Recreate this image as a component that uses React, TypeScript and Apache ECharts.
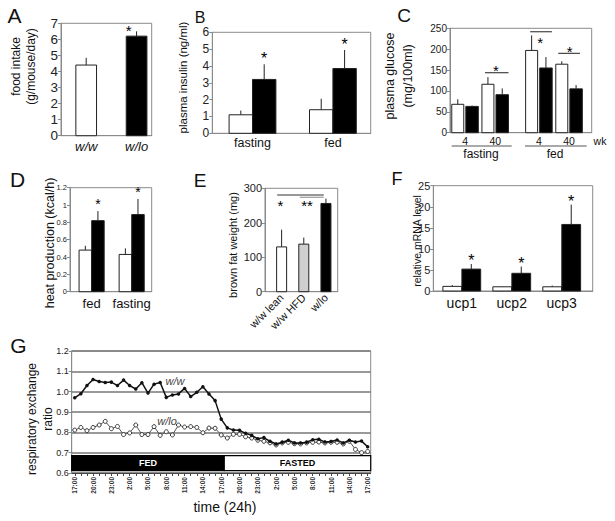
import React, { useEffect, useRef } from 'react';
import * as echarts from 'echarts';

const FONT = '"Liberation Sans", Arial, Helvetica, sans-serif';
const AXIS = '#8a8a8a';
const INK = '#111';

// ---------- Panel A: food intake ----------
const A_categories = ['w/w', 'w/lo'];
const A_values = [4.4, 6.2];
const A_errors = [0.45, 0.3];
const A_sig = [false, true];
const A_ticks = [0, 7, 1];

// ---------- Panel B: plasma insulin ----------
const B_categories = ['fasting', 'fed'];
const B_ww = [1.1, 1.4];
const B_wwErr = [0.25, 0.65];
const B_wlo = [3.2, 3.85];
const B_wloErr = [0.9, 1.1];
const B_wloSig = [true, true];
const B_ticks = [0, 6, 1];

// ---------- Panel C: plasma glucose ----------
const C_weeks = ['4', '40', '4', '40'];
const C_groups = ['fasting', 'fed'];
const C_ww = [68, 116, 197, 164];
const C_wwErr = [12, 17, 36, 7];
const C_wlo = [63, 91, 155, 105];
const C_wloErr = [2, 15, 26, 9];
const C_ticks = [0, 250, 50];
// significance brackets: [x from, x to, y]
const C_sigLines = [[0.66, 1.44, 143.7], [2.16, 2.88, 241.8], [3.09, 3.81, 190]];
const C_sigStars = [[1.02, 158], [2.49, 223.6], [3.47, 202]];

// ---------- Panel D: heat production ----------
const D_categories = ['fed', 'fasting'];
const D_ww = [0.48, 0.43];
const D_wwErr = [0.05, 0.07];
const D_wlo = [0.82, 0.89];
const D_wloErr = [0.11, 0.18];
const D_wloSig = [true, true];
const D_ticks = [0, 1.2, 0.2];

// ---------- Panel E: brown fat weight ----------
const E_categories = ['w/w lean', 'w/w HFD', 'w/lo'];
const E_values = [130, 138, 256];
const E_errors = [50, 19, 14];
const E_ticks = [0, 300, 100];
const E_sigLines = [[-0.2, 1.9, 280.6], [0.82, 1.9, 274]];
const E_sigStars = [[-0.05, 261], [1.15, 261]];
const E_sigText = ['*', '**'];

// ---------- Panel F: relative mRNA ----------
const F_categories = ['ucp1', 'ucp2', 'ucp3'];
const F_ww = [1.1, 1.0, 1.0];
const F_wwErr = [0.3, 0.1, 0.3];
const F_wlo = [5.2, 4.2, 15.8];
const F_wloErr = [1.2, 1.6, 4.7];
const F_wloSig = [true, true, true];
const F_ticks = [0, 25, 5];

// ---------- Panel G: respiratory exchange ratio ----------
const G_times = Array.from({ length: 49 }, (_, i) => `${(17 + i) % 24}:00`);
const G_ww = [
  0.97, 0.99, 1.03, 1.06, 1.05, 1.045, 1.047, 1.03, 1.057, 1.03,
  1.013, 1.044, 0.993, 1.037, 1.045, 0.972, 0.984, 0.989, 1.016, 0.976,
  0.997, 1.024, 0.989, 0.956, 0.865, 0.822, 0.811, 0.81, 0.795, 0.785,
  0.768, 0.774, 0.756, 0.743, 0.751, 0.761, 0.748, 0.748, 0.751, 0.764,
  0.766, 0.752, 0.755, 0.762, 0.748, 0.761, 0.752, 0.757, 0.729,
];
const G_wlo = [
  0.811, 0.824, 0.808, 0.824, 0.836, 0.854, 0.818, 0.829, 0.789, 0.797,
  0.836, 0.789, 0.789, 0.828, 0.785, 0.803, 0.787, 0.836, 0.826, 0.828,
  0.824, 0.798, 0.821, 0.82, 0.787, 0.772, 0.79, 0.79, 0.778, 0.772,
  0.761, 0.756, 0.748, 0.738, 0.748, 0.751, 0.744, 0.743, 0.748, 0.751,
  0.752, 0.748, 0.751, 0.751, 0.743, 0.756, 0.716, 0.7, 0.706,
];
const G_ticks = [0.6, 1.2, 0.1];
const G_phases = ['FED', 'FASTED'];
const G_phaseStart = [0, 25];
const G_phaseEnd = [24, 48];
const G_phaseTop = 0.685;
const G_phaseBottom = 0.612;

// ---------- layout (pixels / axis positions) ----------
const GRIDS = [
  { left: 61, top: 23.3, width: 90.7, height: 112.4 }, // A
  { left: 212.3, top: 32.3, width: 158.4, height: 101 }, // B
  { left: 450, top: 28.3, width: 141.7, height: 104.4 }, // C
  { left: 70, top: 187.7, width: 81.7, height: 104 }, // D
  { left: 265, top: 188.3, width: 72.7, height: 103.4 }, // E
  { left: 433.3, top: 185.7, width: 159.4, height: 105.3 }, // F
  { left: 71.7, top: 351, width: 299, height: 122 }, // G
];
const POS_A = [0, 1];
const POS_B = [0, 1];
const POS_C = [0, 1, 2.45, 3.45];
const POS_D = [0, 1];
const POS_E = [0, 1, 2];
const POS_F = [0, 1, 2];

type Star = { dx: number; dy: number; size: number };

function bars(
  gi: number, xs: number[], vals: number[], errs: number[], sig: boolean[] | null,
  barW: number, offset: number, fill: string | ((i: number) => string), star?: Star,
) {
  return {
    type: 'custom', xAxisIndex: gi, yAxisIndex: gi, silent: true, z: 3,
    encode: { x: 0, y: 1 },
    data: xs.map((x, i) => [x, vals[i], errs[i], sig && sig[i] ? 1 : 0]),
    renderItem: (params: any, api: any) => {
      const i = params.dataIndex;
      const x = api.value(0), y = api.value(1), e = api.value(2), s = api.value(3);
      const base = api.coord([x, 0]);
      const top = api.coord([x, y]);
      const et = api.coord([x, y + e]);
      const cx = base[0] + offset;
      const color = typeof fill === 'function' ? fill(i) : fill;
      const children: any[] = [
        { type: 'line', shape: { x1: cx, y1: top[1], x2: cx, y2: et[1] }, style: { stroke: '#222', lineWidth: 1 } },
        { type: 'rect', shape: { x: cx - barW / 2, y: top[1], width: barW, height: base[1] - top[1] }, style: { fill: color, stroke: '#222', lineWidth: 1 } },
      ];
      if (s && star) {
        children.push({
          type: 'text', x: cx + star.dx, y: et[1] + star.dy + star.size * 0.22,
          style: { text: '*', fontSize: star.size, fontFamily: FONT, fill: '#000', align: 'center', verticalAlign: 'middle' },
        });
      }
      return { type: 'group', children };
    },
  };
}

function sigLines(gi: number, lines: number[][], colors: string[]) {
  return {
    type: 'custom', xAxisIndex: gi, yAxisIndex: gi, silent: true, z: 4,
    encode: { x: 0, y: 1 },
    data: lines.map((l) => [l[0], l[2]]),
    renderItem: (params: any, api: any) => {
      const l = lines[params.dataIndex];
      const a = api.coord([l[0], l[2]]);
      const b = api.coord([l[1], l[2]]);
      return { type: 'line', shape: { x1: a[0], y1: a[1], x2: b[0], y2: b[1] }, style: { stroke: colors[params.dataIndex] || '#333', lineWidth: 1.2 } };
    },
  };
}

function sigStars(gi: number, stars: number[][], texts: string[], size: number) {
  return {
    type: 'custom', xAxisIndex: gi, yAxisIndex: gi, silent: true, z: 4,
    encode: { x: 0, y: 1 },
    data: stars.map((s) => [s[0], s[1]]),
    renderItem: (params: any, api: any) => {
      const p = api.coord([api.value(0), api.value(1)]);
      return {
        type: 'text', x: p[0], y: p[1] + size * 0.22,
        style: { text: texts[params.dataIndex] || '*', fontSize: size, fontFamily: FONT, fill: '#000', align: 'center', verticalAlign: 'middle' },
      };
    },
  };
}

function catX(gi: number, min: number, max: number, pos: number[], labels: string[], fontSize: number, extra: any = {}) {
  return {
    type: 'value', gridIndex: gi, min, max,
    axisLine: { show: true, onZero: false, lineStyle: { color: AXIS } },
    axisTick: { show: false },
    splitLine: { show: false },
    axisLabel: {
      customValues: pos,
      formatter: (v: number) => {
        const i = pos.findIndex((p) => Math.abs(p - v) < 1e-6);
        return i >= 0 ? labels[i] : '';
      },
      fontSize, fontFamily: FONT, color: INK, margin: 4, ...extra,
    },
  };
}

function valY(gi: number, ticks: number[], fontSize: number, formatter?: any, extra: any = {}) {
  return {
    type: 'value', gridIndex: gi, min: ticks[0], max: ticks[1], interval: ticks[2],
    axisLine: { show: true, onZero: false, lineStyle: { color: AXIS } },
    axisTick: { show: true, length: 3, lineStyle: { color: AXIS } },
    splitLine: { show: false },
    axisLabel: { fontSize, fontFamily: FONT, color: '#222', margin: 3, formatter },
    ...extra,
  };
}

function txt(text: string, x: number, y: number, fontSize: number, o: any = {}) {
  return {
    type: 'text', x, y, rotation: o.rot || 0, silent: true, z: 100,
    style: {
      text, fontSize, fontFamily: FONT, fill: o.color || INK,
      align: 'center', verticalAlign: 'middle',
      fontStyle: o.italic ? 'italic' : 'normal',
      fontWeight: o.bold ? 'bold' : 'normal',
      lineHeight: o.lh || fontSize * 1.2,
    },
  };
}

function hline(x1: number, x2: number, y: number, color = '#555') {
  return { type: 'line', silent: true, z: 100, shape: { x1, y1: y, x2, y2: y }, style: { stroke: color, lineWidth: 1 } };
}

function buildOption(): any {
  const R = Math.PI / 2;
  const grid = GRIDS.map((g) => ({
    ...g, show: true, borderColor: AXIS, borderWidth: 1, backgroundColor: 'transparent',
    containLabel: false, outerBoundsMode: 'none',
  }));

  const xAxis = [
    catX(0, -0.5, 1.3, POS_A, A_categories, 13, { fontStyle: 'italic', margin: 4 }),
    catX(1, -0.5, 1.47, POS_B, B_categories, 12.5, { margin: 3 }),
    catX(2, -0.5, 4.2, POS_C, C_weeks, 10.5, { margin: 3 }),
    catX(3, -0.54, 1.5, POS_D, D_categories, 13, { margin: 5 }),
    catX(4, -0.75, 2.53, POS_E, E_categories, 11, { rotate: 45, margin: 4 }),
    catX(5, -0.57, 2.62, POS_F, F_categories, 14, { margin: 5 }),
    {
      type: 'category', gridIndex: 6, data: G_times, boundaryGap: true,
      axisLine: { show: true, onZero: false, lineStyle: { color: '#444' } },
      axisTick: { show: true, interval: 0, alignWithLabel: true, length: 3, lineStyle: { color: '#444' } },
      splitLine: { show: false },
      axisLabel: { interval: 2, rotate: 90, fontSize: 6.5, fontWeight: 'bold', fontFamily: FONT, color: '#333', margin: 4 },
    },
  ];

  const yAxis = [
    valY(0, A_ticks, 13.5),
    valY(1, B_ticks, 12),
    valY(2, C_ticks, 10),
    valY(3, D_ticks, 7.5, (v: number) => String(+v.toFixed(1))),
    valY(4, E_ticks, 11),
    valY(5, F_ticks, 11),
    valY(6, G_ticks, 9, (v: number) => v.toFixed(1), {
      splitLine: { show: true, lineStyle: { color: '#777', width: 1.5 } },
    }),
  ];

  const series: any[] = [
    // A
    bars(0, POS_A, A_values, A_errors, A_sig, 20.7, 0, (i) => (i === 0 ? '#fff' : '#000'), { dx: -8, dy: -4, size: 15 }),
    // B
    bars(1, POS_B, B_ww, B_wwErr, null, 23.4, -11.7, '#fff'),
    bars(1, POS_B, B_wlo, B_wloErr, B_wloSig, 23.4, 11.7, '#000', { dx: 0, dy: -9, size: 16 }),
    // C
    bars(2, POS_C, C_ww, C_wwErr, null, 12, -7.3, '#fff'),
    bars(2, POS_C, C_wlo, C_wloErr, null, 12.5, 7, '#000'),
    sigLines(2, C_sigLines, ['#444', '#444', '#444']),
    sigStars(2, C_sigStars, ['*', '*', '*'], 15),
    // D
    bars(3, POS_D, D_ww, D_wwErr, null, 12.5, -6.3, '#fff'),
    bars(3, POS_D, D_wlo, D_wloErr, D_wloSig, 12.5, 6.3, '#000', { dx: 0, dy: -10, size: 14 }),
    // E
    bars(4, POS_E, E_values, E_errors, null, 10, 0, (i) => ['#fff', '#cfcfcf', '#000'][i]),
    sigLines(4, E_sigLines, ['#333', '#9a9a9a']),
    sigStars(4, E_sigStars, E_sigText, 15),
    // F
    bars(5, POS_F, F_ww, F_wwErr, null, 18.8, -9.5, '#fff'),
    bars(5, POS_F, F_wlo, F_wloErr, F_wloSig, 18.8, 9.5, '#000', { dx: 0, dy: -7, size: 16 }),
    // G
    {
      type: 'custom', xAxisIndex: 6, yAxisIndex: 6, silent: true, z: 4,
      encode: { x: 0, y: 1 },
      data: G_phases.map((_, i) => [G_phaseStart[i], G_phaseTop]),
      renderItem: (params: any, api: any) => {
        const i = params.dataIndex;
        const band = api.size([1, 0])[0];
        const a = api.coord([G_phaseStart[i], G_phaseTop]);
        const b = api.coord([G_phaseEnd[i], G_phaseBottom]);
        const x0 = a[0] - band / 2;
        const x1 = b[0] + band / 2;
        const fed = i === 0;
        return {
          type: 'group',
          children: [
            { type: 'rect', shape: { x: x0, y: a[1], width: x1 - x0, height: b[1] - a[1] }, style: { fill: fed ? '#000' : '#fff', stroke: '#000', lineWidth: 1.2 } },
            { type: 'text', x: (x0 + x1) / 2, y: (a[1] + b[1]) / 2, style: { text: G_phases[i], fill: fed ? '#fff' : '#000', fontSize: 9, fontWeight: 'bold', fontFamily: FONT, align: 'center', verticalAlign: 'middle' } },
          ],
        };
      },
    },
    {
      type: 'line', name: 'w/lo', xAxisIndex: 6, yAxisIndex: 6, data: G_wlo, silent: true, z: 5,
      symbol: 'circle', symbolSize: 4, showAllSymbol: true,
      lineStyle: { color: '#555', width: 1 },
      itemStyle: { color: '#fff', borderColor: '#333', borderWidth: 1 },
    },
    {
      type: 'line', name: 'w/w', xAxisIndex: 6, yAxisIndex: 6, data: G_ww, silent: true, z: 6,
      symbol: 'circle', symbolSize: 3.5, showAllSymbol: true,
      lineStyle: { color: '#111', width: 1.5 },
      itemStyle: { color: '#111' },
    },
  ];

  const graphic: any[] = [
    // panel letters
    txt('A', 14.5, 15.5, 21),
    txt('B', 200, 17, 16),
    txt('C', 404, 15, 19),
    txt('D', 17.5, 179.5, 21),
    txt('E', 200, 180, 19),
    txt('F', 397, 179, 18),
    txt('G', 18.5, 345.5, 21),
    // axis titles
    txt('food intake\n(g/mouse/day)', 23.5, 66.5, 12, { rot: R, lh: 15 }),
    txt('plasma insulin (ng/ml)', 183, 77.5, 11.5, { rot: R }),
    txt('plasma glucose\n(mg/100ml)', 399, 76, 12.5, { rot: R, lh: 18 }),
    txt('heat production (kcal/h)', 50, 243, 12.5, { rot: R }),
    txt('brown fat weight (mg)', 233, 245, 11, { rot: R }),
    txt('relative mRNA level', 416.7, 241, 10.5, { rot: R }),
    txt('respiratory exchange\nratio', 40, 419, 12, { rot: R, lh: 15.5 }),
    txt('time (24h)', 225, 507, 14),
    // panel C group labels
    hline(451.7, 511.7, 146),
    hline(525, 586.7, 146),
    txt(C_groups[0], 481, 154, 12),
    txt(C_groups[1], 555, 154, 12),
    txt('wk', 600, 140.5, 10.5),
    // panel G series labels
    txt('w/w', 175, 380.5, 11, { italic: true, color: '#444' }),
    txt('w/lo', 167, 421, 11, { italic: true, color: '#444' }),
  ];

  return {
    animation: false,
    backgroundColor: '#fff',
    textStyle: { fontFamily: FONT },
    grid, xAxis, yAxis, series, graphic,
  };
}

export default function App() {
  const ref = useRef<HTMLDivElement>(null);
  useEffect(() => {
    if (!ref.current) return;
    const chart = echarts.init(ref.current, null, { renderer: 'svg' });
    chart.setOption(buildOption());
    return () => chart.dispose();
  }, []);
  return (
    <div
      ref={ref}
      style={{ position: 'absolute', left: 0, top: 0, width: 615, height: 521, background: '#fff' }}
    />
  );
}
